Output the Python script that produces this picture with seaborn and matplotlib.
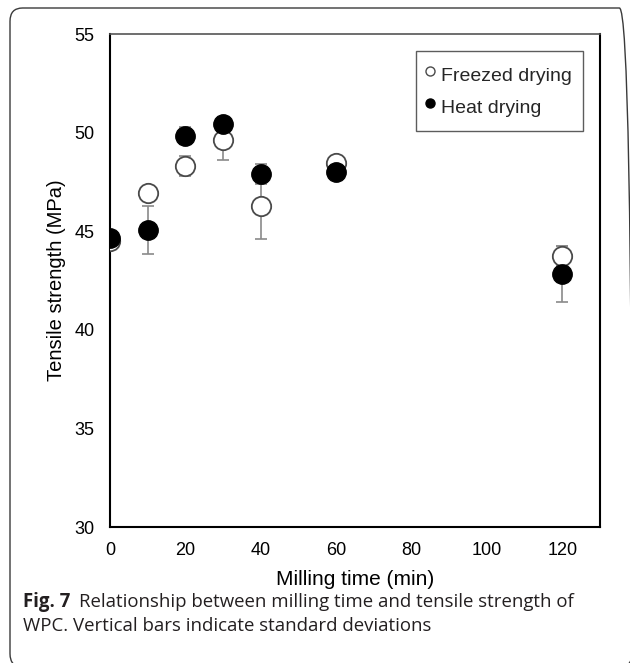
import matplotlib
matplotlib.use("Agg")
import matplotlib.pyplot as plt
from matplotlib.patches import FancyBboxPatch
from matplotlib.lines import Line2D
import seaborn as sns
import pandas as pd

# Tensile strength of WPC versus milling time
milling_time = [0, 10, 20, 30, 40, 60, 120]
freezed_mean = [44.5, 46.95, 48.3, 49.65, 46.3, 48.45, 43.75]
freezed_sd = [0.42, 0.3, 0.5, 1.04, 1.68, 0.3, 0.48]
heat_mean = [44.65, 45.07, 49.85, 50.42, 47.9, 48.0, 42.83]
heat_sd = [0.3, 1.23, 0.45, 0.35, 0.5, 0.3, 1.44]
series_names = ["Freezed drying", "Heat drying"]

df = pd.DataFrame({
    "time": milling_time * 2,
    "strength": freezed_mean + heat_mean,
    "sd": freezed_sd + heat_sd,
    "method": [series_names[0]] * len(milling_time) + [series_names[1]] * len(milling_time),
})

sns.set_theme(style="white")
plt.rcParams["font.family"] = ["Liberation Sans", "DejaVu Sans"]

W, H = 630, 663
fig = plt.figure(figsize=(W / 100, H / 100), dpi=100)
ax = fig.add_axes([110 / W, 1 - 527 / H, 490 / W, 493 / H])

# standard deviation bars sit behind the markers
for name in series_names:
    sub = df[df["method"] == name]
    ax.errorbar(sub["time"], sub["strength"], yerr=sub["sd"], fmt="none",
                ecolor="#8a8a8a", elinewidth=1.2, capsize=4.5, capthick=1.2, zorder=2)

sns.scatterplot(data=df[df["method"] == series_names[0]], x="time", y="strength",
                ax=ax, s=195, marker="o", facecolor="white", edgecolor="#4a4a4a",
                linewidth=1.3, zorder=3, legend=False)
sns.scatterplot(data=df[df["method"] == series_names[1]], x="time", y="strength",
                ax=ax, s=195, marker="o", color="black", edgecolor="black",
                linewidth=1.0, zorder=4, legend=False)

ax.set_xlim(0, 130)
ax.set_ylim(30, 55)
ax.set_xticks(range(0, 121, 20))
ax.set_yticks(range(30, 56, 5))
ax.tick_params(axis="both", direction="in", length=4, width=1, colors="black",
               labelsize=13, labelcolor="black")
ax.tick_params(axis="y", pad=11)
ax.tick_params(axis="x", pad=11)
ax.set_xlabel("Milling time (min)", fontsize=15, color="black", labelpad=8)
ax.set_ylabel("Tensile strength (MPa)", fontsize=14.5, color="black", labelpad=6)
for side in ["left", "bottom", "right"]:
    ax.spines[side].set_color("black")
    ax.spines[side].set_linewidth(1.5)
ax.spines["top"].set_color("#555555")
ax.spines["top"].set_linewidth(1.2)

handles = [
    Line2D([], [], marker="o", linestyle="none", markersize=6.5,
           markerfacecolor="white", markeredgecolor="#4a4a4a", markeredgewidth=1.0),
    Line2D([], [], marker="o", linestyle="none", markersize=6.5,
           markerfacecolor="black", markeredgecolor="black"),
]
leg = ax.legend(handles, series_names, loc="upper right",
                bbox_to_anchor=((583 - 110) / 490, (527 - 51) / 493),
                fontsize=14, frameon=True, fancybox=False, handlelength=0.3,
                handleheight=1.7, handletextpad=0.45, borderpad=0.55,
                labelspacing=0.3, borderaxespad=0)
leg.get_frame().set_edgecolor("#333333")
leg.get_frame().set_linewidth(1.0)

# rounded frame around the whole figure
frame = FancyBboxPatch((10 / W, -4 / H), 622 / W, (H - 8 + 4) / H,
                       boxstyle="round,pad=0,rounding_size=0.02",
                       transform=fig.transFigure, fill=False,
                       edgecolor="#3a3a3a", linewidth=1.0, clip_on=False)
fig.patches.append(frame)

# caption
cap_font = ["Open Sans", "DejaVu Sans"]
t1 = fig.text(23 / W, 1 - 602 / H, "Fig. 7", fontsize=13.4, fontweight="bold",
              family=cap_font, color="#231f20", va="center", ha="left")
fig.canvas.draw()
bb = t1.get_window_extent()
fig.text((bb.x1 + 9) / W, 1 - 602 / H,
         "Relationship between milling time and tensile strength of",
         fontsize=13.4, family=cap_font, color="#231f20", va="center", ha="left")
fig.text(23 / W, 1 - 626 / H, "WPC. Vertical bars indicate standard deviations",
         fontsize=13.4, family=cap_font, color="#231f20", va="center", ha="left")

fig.savefig("out.png", dpi=100)
